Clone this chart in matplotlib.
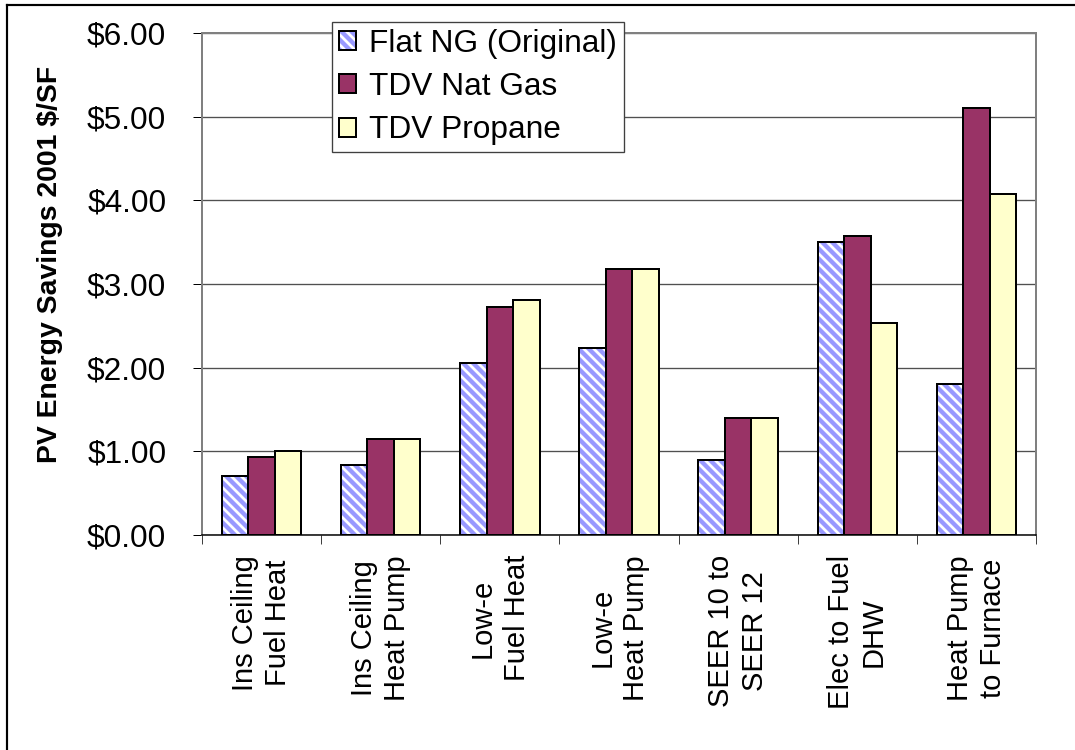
import matplotlib
matplotlib.use("Agg")
import matplotlib.pyplot as plt
import numpy as np
from matplotlib.patches import Patch
from matplotlib.lines import Line2D

# ---- data ----
categories = [
    "Ins Ceiling\nFuel Heat",
    "Ins Ceiling\nHeat Pump",
    "Low-e\nFuel Heat",
    "Low-e\nHeat Pump",
    "SEER 10 to\nSEER 12",
    "Elec to Fuel\nDHW",
    "Heat Pump\nto Furnace",
]
flat_ng = [0.71, 0.84, 2.06, 2.24, 0.90, 3.50, 1.81]
tdv_nat_gas = [0.93, 1.15, 2.73, 3.18, 1.40, 3.57, 5.10]
tdv_propane = [1.00, 1.15, 2.81, 3.18, 1.40, 2.53, 4.07]
series_names = ["Flat NG (Original)", "TDV Nat Gas", "TDV Propane"]
y_ticks = [0, 1, 2, 3, 4, 5, 6]
y_label = "PV Energy Savings 2001 \\$/SF"

# ---- style ----
plt.rcParams["font.family"] = ["Liberation Sans", "DejaVu Sans"]
plt.rcParams["hatch.linewidth"] = 2.6

DPI = 120
W, H = 1075, 750
HATCH = "\\\\\\\\"
STRIPE = "#9999FF"
GAS = "#993366"
PROPANE = "#FFFFCC"
EDGE_LW = 1.2

fig = plt.figure(figsize=(W / DPI, H / DPI), dpi=DPI, facecolor="white")

# outer chart border (top and left edges)
fig.add_artist(Line2D([7 / W, 7 / W], [1 - 5 / H, 0], transform=fig.transFigure,
                      color="black", lw=1.3))
fig.add_artist(Line2D([7 / W, 1], [1 - 5 / H, 1 - 5 / H], transform=fig.transFigure,
                      color="black", lw=1.3))

ax = fig.add_axes([202 / W, 1 - 535 / H, (1036 - 202) / W, (535 - 33) / H])

x = np.arange(len(categories))
w = 0.222

# hatched series: stripes first, then a black outline on top
ax.bar(x - w, flat_ng, w, color="white", edgecolor=STRIPE, hatch=HATCH,
       linewidth=0, zorder=2)
ax.bar(x - w, flat_ng, w, fill=False, edgecolor="black", linewidth=EDGE_LW, zorder=3)
ax.bar(x, tdv_nat_gas, w, color=GAS, edgecolor="black", linewidth=EDGE_LW, zorder=3)
ax.bar(x + w, tdv_propane, w, color=PROPANE, edgecolor="black", linewidth=EDGE_LW, zorder=3)

ax.set_xlim(-0.5, len(categories) - 0.5)
ax.set_ylim(0, 6)

# gridlines
ax.set_axisbelow(True)
ax.yaxis.grid(True, color="#505050", lw=0.8)

# spines
for side in ("left", "top", "right"):
    ax.spines[side].set_color("#808080")
    ax.spines[side].set_linewidth(1.2)
ax.spines["bottom"].set_color("black")
ax.spines["bottom"].set_linewidth(0.9)

# y axis
ax.set_yticks(y_ticks)
ax.set_yticklabels(["\\$%.2f" % v for v in y_ticks])
ax.tick_params(axis="y", direction="out", length=5.4, width=0.6, color="black",
               pad=16, labelsize=19)

# x axis: tick marks between categories, labels at centres
ax.set_xticks(np.arange(-0.5, len(categories), 1.0))
ax.tick_params(axis="x", which="major", direction="out", length=5.4, width=0.6,
               color="#404040", labelbottom=False)
ax.set_xticks(x, minor=True)
ax.set_xticklabels(categories, minor=True, rotation=90, ha="center", va="top",
                   multialignment="center", fontsize=17.5, linespacing=1.25)
ax.tick_params(axis="x", which="minor", length=0, pad=12)

ax.set_ylabel(y_label, fontsize=17, fontweight="bold", va="center")
ax.yaxis.set_label_coords((50 - 202) / 834, (535 - 264) / 502)

# legend
handles = [
    (Patch(facecolor="white", edgecolor=STRIPE, hatch=HATCH, linewidth=0),
     Patch(fill=False, edgecolor="black", linewidth=EDGE_LW)),
    Patch(facecolor=GAS, edgecolor="black", linewidth=EDGE_LW),
    Patch(facecolor=PROPANE, edgecolor="black", linewidth=EDGE_LW),
]
leg = fig.legend(handles, series_names, loc="upper left",
                 bbox_to_anchor=(331.7 / W, 1 - 21.7 / H), bbox_transform=fig.transFigure,
                 frameon=True, fancybox=False, framealpha=1, edgecolor="#404040",
                 borderpad=0.22, labelspacing=0.42, handlelength=0.55, handleheight=0.55,
                 handletextpad=0.4, borderaxespad=0, fontsize=19)
leg.get_frame().set_linewidth(0.8)

fig.savefig("out.png", dpi=DPI, facecolor="white")
